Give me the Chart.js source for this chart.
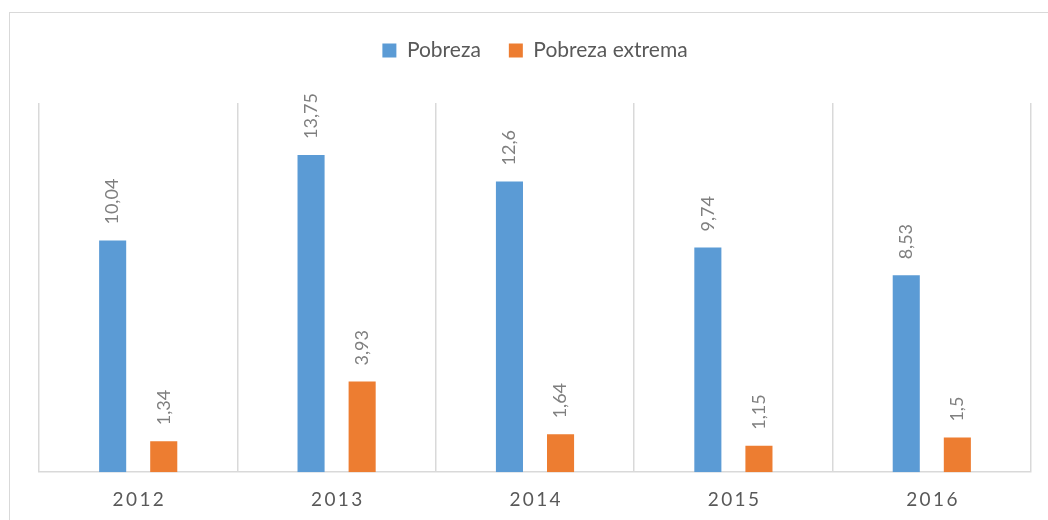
<!DOCTYPE html>
<html lang="es">
<head>
    <meta charset="UTF-8">
    <title>Pobreza y pobreza extrema</title>
    <script src="https://cdn.jsdelivr.net/npm/chart.js@4.4.0/dist/chart.umd.min.js"></script>
    <style>
        body { margin: 0; background: #fff; overflow: hidden; }
        #frame { position: absolute; left: 9px; top: 12px; width: 1100px; height: 600px; border: 1px solid #d9d9d9; }
        #chart { position: absolute; left: 0; top: 0; }
    </style>
</head>
<body>
    <div id="frame"></div>
    <canvas id="chart" width="1048" height="520"></canvas>

    <script>
        // datos
        const years = ['2012', '2013', '2014', '2015', '2016'];
        const pobreza = [10.04, 13.75, 12.6, 9.74, 8.53];
        const pobrezaExtrema = [1.34, 3.93, 1.64, 1.15, 1.5];

        const FONT = 'Lato, Carlito, "Open Sans", sans-serif';

        // etiquetas de valor giradas encima de cada barra
        const valueLabels = {
            id: 'valueLabels',
            afterDatasetsDraw(chart) {
                const ctx = chart.ctx;
                ctx.save();
                ctx.font = '18px ' + FONT;
                ctx.fillStyle = '#7f7f7f';
                ctx.textAlign = 'left';
                ctx.textBaseline = 'middle';
                chart.data.datasets.forEach((ds, i) => {
                    chart.getDatasetMeta(i).data.forEach((bar, j) => {
                        ctx.save();
                        ctx.translate(bar.x, bar.y - 16);
                        ctx.rotate(-Math.PI / 2);
                        ctx.fillText(String(ds.data[j]).replace('.', ','), 0, 0);
                        ctx.restore();
                    });
                });
                ctx.restore();
            }
        };

        // mas espacio debajo de la leyenda
        const legendGap = {
            id: 'legendGap',
            beforeInit(chart) {
                const fit = chart.legend.fit;
                chart.legend.fit = function () {
                    fit.bind(chart.legend)();
                    this.height += 32;
                };
            }
        };

        const ctx = document.getElementById('chart').getContext('2d');
        new Chart(ctx, {
            type: 'bar',
            data: {
                labels: years,
                datasets: [{
                    label: 'Pobreza',
                    data: pobreza,
                    backgroundColor: '#5b9bd5',
                    categoryPercentage: 0.515,
                    barPercentage: 0.53
                }, {
                    label: 'Pobreza extrema',
                    data: pobrezaExtrema,
                    backgroundColor: '#ed7d31',
                    categoryPercentage: 0.515,
                    barPercentage: 0.53
                }]
            },
            options: {
                responsive: false,
                animation: false,
                layout: { padding: { left: 39, right: 17, top: 12, bottom: -7 } },
                plugins: {
                    legend: {
                        position: 'top',
                        labels: {
                            boxWidth: 14,
                            boxHeight: 14,
                            padding: 28,
                            color: '#595959',
                            font: { family: FONT, size: 21 }
                        }
                    },
                    tooltip: { enabled: false }
                },
                scales: {
                    x: {
                        grid: { color: '#d9d9d9', lineWidth: 1.5, drawTicks: false, offset: true },
                        border: { color: '#d9d9d9', width: 1.5 },
                        ticks: {
                            color: '#595959',
                            padding: 16,
                            font: { family: FONT, size: 19 },
                            callback: function (v) { return this.getLabelForValue(v).split('').join('\u2009'); }
                        }
                    },
                    y: {
                        display: false,
                        min: 0,
                        max: 16
                    }
                }
            },
            plugins: [valueLabels, legendGap]
        });
    </script>
</body>
</html>
